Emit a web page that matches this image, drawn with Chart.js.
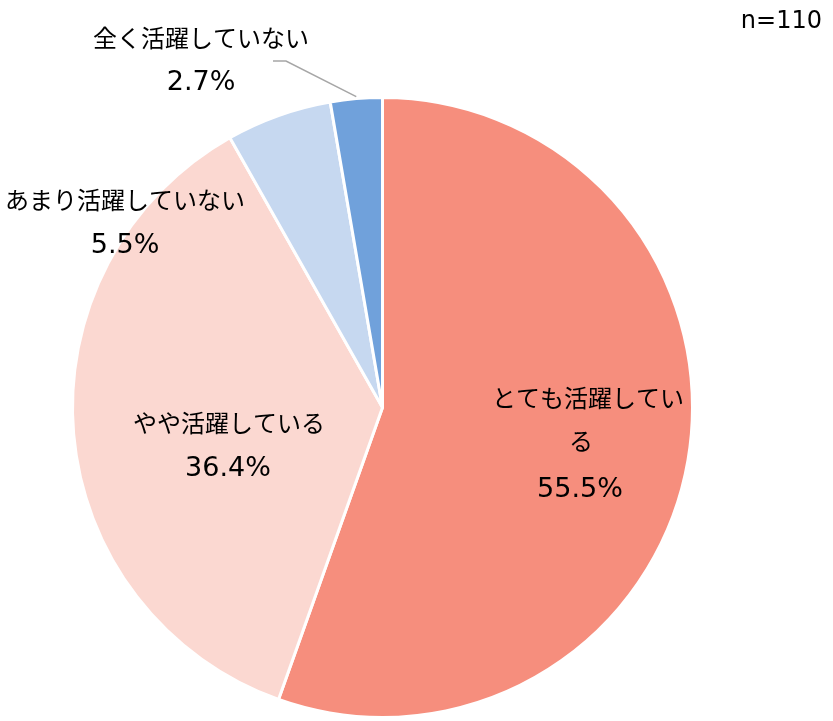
<!DOCTYPE html>
<html>
<head>
<meta charset="utf-8">
<script src="https://cdn.jsdelivr.net/npm/chart.js@4.4.0/dist/chart.umd.min.js"></script>
<style>
  html, body { margin: 0; padding: 0; background: #fff; }
  #wrap { width: 833px; height: 721px; position: relative; }
</style>
</head>
<body>
<div id="wrap"><canvas id="pieChart"></canvas></div>
<script>
// data
var categories = ['とても活躍している', 'やや活躍している', 'あまり活躍していない', '全く活躍していない'];
var shares = [55.5, 36.4, 5.5, 2.7];
var sliceColors = ['#F68E7D', '#FBD8D1', '#C6D8F0', '#70A1DB'];
var sampleNote = 'n=110';

// label lines (text split as in the picture) and where they sit
var labelLines = [
    ['とても活躍してい', 'る'],
    ['やや活躍している'],
    ['あまり活躍していない'],
    ['全く活躍していない']
];
var labelSpots = [
    { y: 398, lineX: [588, 581], pctX: 580, pctY: 490 },
    { y: 423, lineX: [229], pctX: 228, pctY: 469 },
    { y: 200, lineX: [125], pctX: 125, pctY: 246 },
    { y: 38, lineX: [201], pctX: 201, pctY: 83 }
];

var jpFont = '"Noto Sans CJK JP", "Noto Sans", sans-serif';
var numFont = '"DejaVu Sans", Verdana, sans-serif';

var labelPlugin = {
    id: 'sliceLabels',
    afterDatasetsDraw: function (chart) {
        var ctx = chart.ctx;
        var arcs = chart.getDatasetMeta(0).data;
        ctx.save();
        ctx.fillStyle = '#000';
        ctx.textAlign = 'center';
        ctx.textBaseline = 'middle';

        // leader line for the small slice
        var a = arcs[3];
        var mid = (a.startAngle + a.endAngle) / 2;
        var ex = a.x + Math.cos(mid) * a.outerRadius;
        var ey = a.y + Math.sin(mid) * a.outerRadius - 2;
        ctx.strokeStyle = '#A6A6A6';
        ctx.lineWidth = 1.5;
        ctx.beginPath();
        ctx.moveTo(273, 61);
        ctx.lineTo(286, 61);
        ctx.lineTo(ex, ey);
        ctx.stroke();

        for (var i = 0; i < categories.length; i++) {
            var s = labelSpots[i];
            ctx.font = '24px ' + jpFont;
            for (var j = 0; j < labelLines[i].length; j++) {
                ctx.fillText(labelLines[i][j], s.lineX[j], s.y + j * 43);
            }
            ctx.font = '27px ' + numFont;
            ctx.fillText(shares[i].toFixed(1) + '%', s.pctX, s.pctY);
        }

        ctx.textAlign = 'right';
        ctx.font = '24px ' + numFont;
        ctx.fillText(sampleNote, 822, 22);
        ctx.restore();
    }
};

document.addEventListener('DOMContentLoaded', function () {
    var ctx = document.getElementById('pieChart').getContext('2d');
    var pieChart = new Chart(ctx, {
        type: 'pie',
        data: {
            labels: categories,
            datasets: [{
                data: shares,
                backgroundColor: sliceColors,
                borderColor: '#FFFFFF',
                borderWidth: 3
            }]
        },
        options: {
            responsive: true,
            maintainAspectRatio: false,
            animation: false,
            layout: {
                padding: { top: 96, bottom: 2, left: 71, right: 139 }
            },
            plugins: {
                legend: { display: false },
                tooltip: { enabled: false }
            }
        },
        plugins: [labelPlugin]
    });
});
</script>
</body>
</html>
